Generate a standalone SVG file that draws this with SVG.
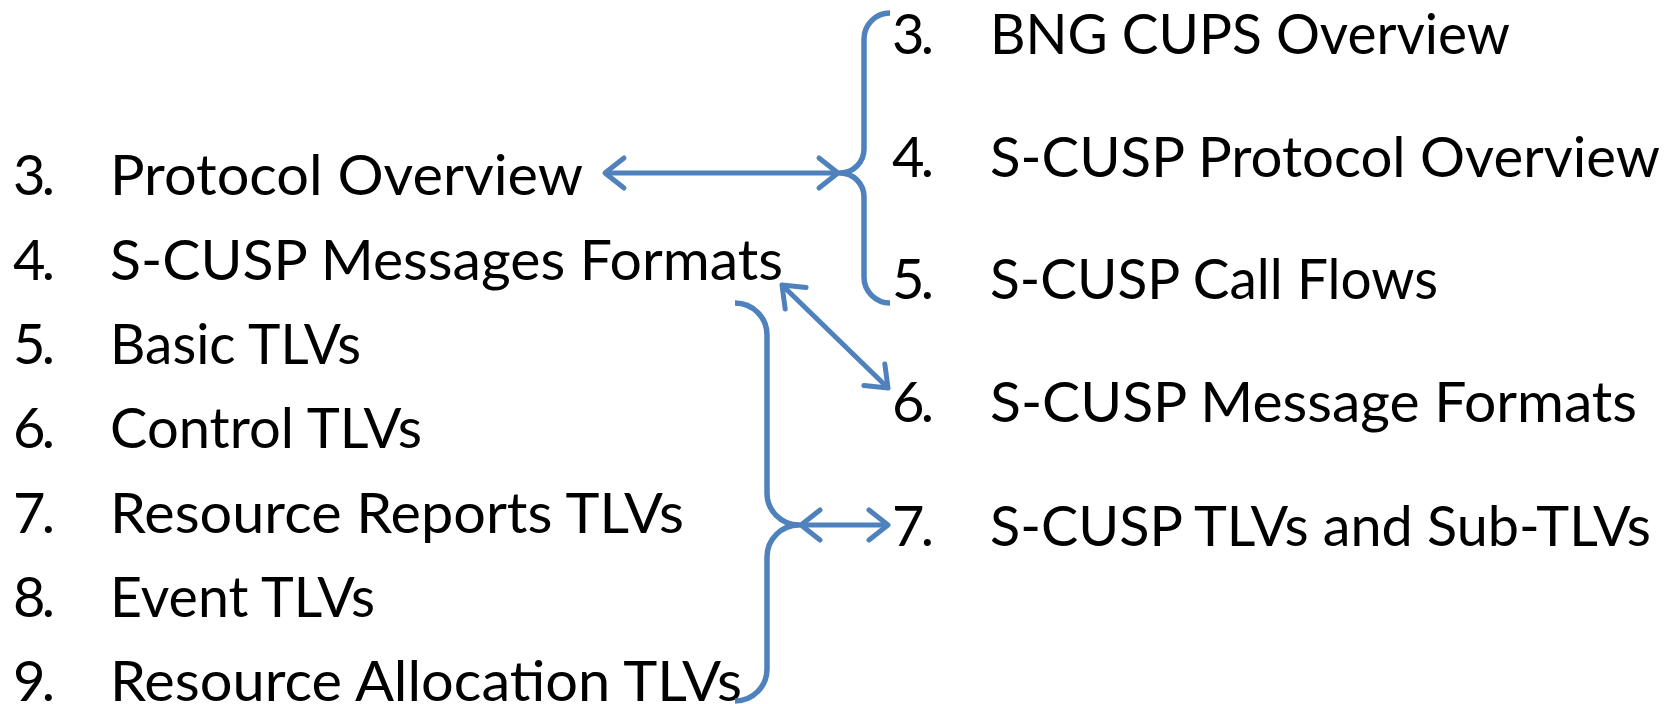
<svg xmlns="http://www.w3.org/2000/svg" width="1667" height="704" viewBox="0 0 1667 704">
<style>
text{font-family:Lato,"Open Sans","Liberation Sans",sans-serif;font-size:56px;fill:#000}
.br{fill:none;stroke:#4F81BD;stroke-width:5.5;stroke-linecap:butt;stroke-linejoin:round}
.ar{fill:none;stroke:#4F81BD;stroke-width:5;marker-start:url(#v);marker-end:url(#v)}
</style>
<defs>
<marker id="v" markerUnits="userSpaceOnUse" markerWidth="40" markerHeight="40" viewBox="-30 -20 40 40" refX="0" refY="0" orient="auto-start-reverse" overflow="visible">
<path d="M-19,-15 L0,0 L-19,15" fill="none" stroke="#4F81BD" stroke-width="5" stroke-linecap="round" stroke-linejoin="round"/>
</marker>
</defs>
<rect width="1667" height="704" fill="#fff"/>
<g id="left-3"><text x="13" y="195" textLength="42">3.</text><text x="110" y="195" textLength="473" lengthAdjust="spacingAndGlyphs">Protocol Overview</text></g>
<g id="left-4"><text x="13" y="280" textLength="42">4.</text><text x="110" y="280" textLength="673" lengthAdjust="spacingAndGlyphs">S-CUSP Messages Formats</text></g>
<g id="left-5"><text x="13" y="364" textLength="42">5.</text><text x="110" y="364" textLength="251" lengthAdjust="spacingAndGlyphs">Basic TLVs</text></g>
<g id="left-6"><text x="13" y="448" textLength="42">6.</text><text x="110" y="448" textLength="312" lengthAdjust="spacingAndGlyphs">Control TLVs</text></g>
<g id="left-7"><text x="13" y="533" textLength="42">7.</text><text x="110" y="533" textLength="574" lengthAdjust="spacingAndGlyphs">Resource Reports TLVs</text></g>
<g id="left-8"><text x="13" y="617" textLength="42">8.</text><text x="110" y="617" textLength="265" lengthAdjust="spacingAndGlyphs">Event TLVs</text></g>
<g id="left-9"><text x="13" y="701" textLength="42">9.</text><text x="110" y="701" textLength="632" lengthAdjust="spacingAndGlyphs">Resource Allocation TLVs</text></g>
<g id="right-3"><text x="892" y="54" textLength="42">3.</text><text x="990" y="54" textLength="520" lengthAdjust="spacingAndGlyphs">BNG CUPS Overview</text></g>
<g id="right-4"><text x="892" y="177" textLength="42">4.</text><text x="990" y="177" textLength="670" lengthAdjust="spacingAndGlyphs">S-CUSP Protocol Overview</text></g>
<g id="right-5"><text x="892" y="299" textLength="42">5.</text><text x="990" y="299" textLength="448" lengthAdjust="spacingAndGlyphs">S-CUSP Call Flows</text></g>
<g id="right-6"><text x="892" y="422" textLength="42">6.</text><text x="990" y="422" textLength="647" lengthAdjust="spacingAndGlyphs">S-CUSP Message Formats</text></g>
<g id="right-7"><text x="892" y="546" textLength="42">7.</text><text x="990" y="546" textLength="661" lengthAdjust="spacingAndGlyphs">S-CUSP TLVs and Sub-TLVs</text></g>
<g id="connectors">
<path class="br" d="M890,13 A26,26 0 0 0 864,39 L864,149 A24,24 0 0 1 840,173 A24,24 0 0 1 864,197 L864,277 A26,26 0 0 0 890,303"/>
<path class="br" d="M735,303 A32,32 0 0 1 767,335 L767,493 A32,32 0 0 0 799,525 A32,32 0 0 0 767,557 L767,669 A32,32 0 0 1 735,701"/>
<line class="ar" x1="605" y1="173" x2="838" y2="173"/>
<line class="ar" x1="782" y1="285" x2="888" y2="388"/>
<line class="ar" x1="801" y1="525" x2="888" y2="525"/>
</g>
</svg>
